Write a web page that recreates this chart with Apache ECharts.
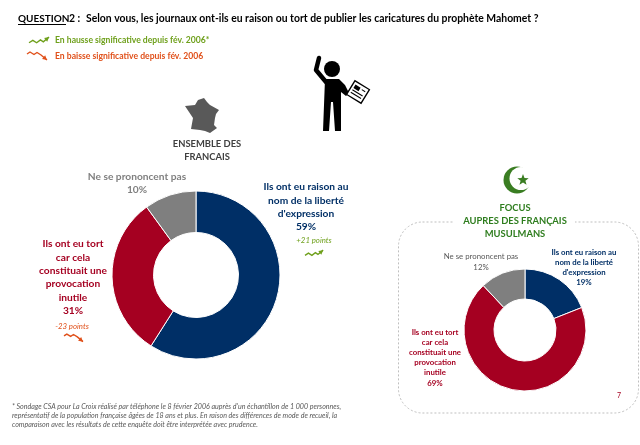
<!DOCTYPE html>
<html>
<head>
<meta charset="utf-8">
<style>
html, body { margin: 0; padding: 0; background: #fff; }
#chart { width: 640px; height: 445px; }
</style>
<script src="https://cdn.jsdelivr.net/npm/echarts@6/dist/echarts.min.js"></script>
</head>
<body>
<div id="chart"></div>
<script>
var categories = ["Ils ont eu raison au nom de la liberté d'expression", 'Ils ont eu tort car cela constituait une provocation inutile', 'Ne se prononcent pas'];
var ensembleValues = [59, 31, 10];
var musulmansValues = [19, 69, 12];
var sliceColors = ['#002f66', '#a50021', '#7f7f7f'];

var FONT = 'Lato, "Open Sans", sans-serif';

var chart = echarts.init(document.getElementById('chart'));

function pieData(values) {
    return values.map(function (v, i) {
        return {name: categories[i], value: v, itemStyle: {color: sliceColors[i]}};
    });
}

function pieSeries(center, radius, values) {
    return {
        type: 'pie',
        center: center,
        radius: radius,
        startAngle: 90,
        clockwise: true,
        silent: true,
        animation: false,
        label: {show: false},
        labelLine: {show: false},
        itemStyle: {borderColor: '#fff', borderWidth: 1},
        data: pieData(values)
    };
}

function text(str, x, y, size, color, opt) {
    opt = opt || {};
    return {
        type: 'text',
        x: x,
        y: y,
        z: 10,
        style: {
            text: str,
            font: (opt.italic ? 'italic ' : '') + (opt.normal ? '' : 'bold ') + size + 'px ' + FONT,
            fill: color,
            align: opt.align || 'center',
            verticalAlign: 'middle'
        }
    };
}

// un bloc de lignes centrees
function lines(arr, x, y, step, size, color, opt) {
    return arr.map(function (s, i) {
        return text(s, x, y + i * step, size, color, opt);
    });
}

function zigzag(points, color) {
    var last = points[points.length - 1], prev = points[points.length - 2];
    var a = Math.atan2(last[1] - prev[1], last[0] - prev[0]);
    var head = [
        last,
        [last[0] - 5 * Math.cos(a - 0.5), last[1] - 5 * Math.sin(a - 0.5)],
        [last[0] - 5 * Math.cos(a + 0.5), last[1] - 5 * Math.sin(a + 0.5)]
    ];
    return [
        {type: 'polyline', shape: {points: points}, style: {stroke: color, lineWidth: 1.4, fill: null}},
        {type: 'polygon', shape: {points: head}, style: {fill: color}}
    ];
}

function upArrow(x, y, w) {
    var k = w / 22;
    return zigzag([[x, y + 5 * k], [x + 4 * k, y + 2.5 * k], [x + 8 * k, y + 5 * k], [x + 12 * k, y + 2 * k], [x + 15 * k, y + 4 * k], [x + 21 * k, y - 1 * k]], '#6fa01c');
}

function downArrow(x, y, w) {
    var k = w / 20;
    return zigzag([[x, y + 1 * k], [x + 3 * k, y - 1 * k], [x + 7 * k, y + 1.5 * k], [x + 10 * k, y - 0.5 * k], [x + 14 * k, y + 2 * k], [x + 20 * k, y + 7 * k]], '#e0501a');
}

function starPoints(cx, cy, r) {
    var pts = [];
    for (var i = 0; i < 10; i++) {
        var rr = i % 2 ? r * 0.42 : r;
        var a = -Math.PI / 2 + i * Math.PI / 5;
        pts.push([cx + rr * Math.cos(a), cy + rr * Math.sin(a)]);
    }
    return pts;
}

var franceOutline = [[204, 98], [207, 102], [210, 105], [219, 110], [216, 114], [215, 118], [214, 125], [217, 128], [210, 133], [205, 131], [200, 130], [191, 129], [193, 118], [189, 112], [185, 106], [195, 105], [198, 100]];

var graphics = [];

// cadre pointille du focus, interrompu par le titre
graphics.push({type: 'rect', shape: {x: 398.5, y: 222, width: 240, height: 191, r: 24}, style: {fill: null, stroke: '#bfbfbf', lineWidth: 1, lineDash: [2, 2]}});
graphics.push({type: 'rect', shape: {x: 453, y: 216, width: 122, height: 12}, style: {fill: '#fff'}});

// titre
graphics.push(text('QUESTION', 18, 19, 10, '#000', {align: 'left'}));
graphics.push({type: 'line', shape: {x1: 18, y1: 24.5, x2: 66, y2: 24.5}, style: {stroke: '#000', lineWidth: 1}});
graphics.push(text('2 :', 69, 19, 10.4, '#000', {align: 'left'}));
graphics.push(text('Selon vous, les journaux ont-ils eu raison ou tort de publier les caricatures du prophète Mahomet ?', 86, 19, 10.4, '#000', {align: 'left'}));

// legende
graphics = graphics.concat(upArrow(29, 38, 21));
graphics.push(text('En hausse significative depuis fév. 2006*', 55, 40, 8.6, '#6fa01c', {align: 'left'}));
graphics = graphics.concat(downArrow(27, 53, 20));
graphics.push(text('En baisse significative depuis fév. 2006', 55, 56, 8.6, '#e0501a', {align: 'left'}));

// personnage au journal
graphics.push({type: 'circle', shape: {cx: 332, cy: 69, r: 8}, style: {fill: '#000'}});
graphics.push({type: 'polyline', shape: {points: [[319, 58], [316, 70], [326, 82]]}, style: {stroke: '#000', lineWidth: 4.5, fill: null, lineCap: 'round', lineJoin: 'round'}});
graphics.push({type: 'polygon', shape: {points: [[325, 79], [339, 79], [345, 85], [349, 93], [346, 96], [341, 92], [341, 131], [335, 131], [333, 102], [331, 102], [329, 131], [323, 131]]}, style: {fill: '#000'}});
graphics.push({
    type: 'rect', x: 358, y: 92, rotation: -0.55,
    shape: {x: -8.5, y: -8, width: 17, height: 16},
    style: {fill: '#fff', stroke: '#000', lineWidth: 1.3}
});
graphics.push({type: 'rect', x: 358, y: 92, rotation: -0.55, shape: {x: -6, y: -5, width: 6, height: 4}, style: {fill: '#000'}});
graphics.push({type: 'line', x: 358, y: 92, rotation: -0.55, shape: {x1: -6, y1: 1, x2: 6, y2: 1}, style: {stroke: '#000', lineWidth: 1}});
graphics.push({type: 'line', x: 358, y: 92, rotation: -0.55, shape: {x1: -6, y1: 4, x2: 6, y2: 4}, style: {stroke: '#000', lineWidth: 1}});
graphics.push({type: 'line', x: 358, y: 92, rotation: -0.55, shape: {x1: 2, y1: -4, x2: 6, y2: -4}, style: {stroke: '#000', lineWidth: 1}});

// carte de France
graphics.push({type: 'polygon', shape: {points: franceOutline}, style: {fill: '#595959'}});

// ensemble des francais
graphics = graphics.concat(lines(['ENSEMBLE DES', 'FRANCAIS'], 207, 144, 13, 9.4, '#404040'));
graphics = graphics.concat(lines(['Ne se prononcent pas', ensembleValues[2] + '%'], 137, 177, 13, 10.2, '#7f7f7f'));
graphics = graphics.concat(lines(['Ils ont eu raison au', 'nom de la liberté', "d'expression", ensembleValues[0] + '%'], 306, 187, 13.3, 10.2, sliceColors[0]));
graphics = graphics.concat(lines(['Ils ont eu tort', 'car cela', 'constituait une', 'provocation', 'inutile', ensembleValues[1] + '%'], 73, 244, 13.4, 10.2, sliceColors[1]));
graphics.push(text('+21 points', 314, 240, 7.8, '#6fa01c', {italic: true, normal: true}));
graphics = graphics.concat(upArrow(305, 251, 19));
graphics.push(text('-23 points', 72, 326, 7.8, '#e0501a', {italic: true, normal: true}));
graphics = graphics.concat(downArrow(64, 335, 19));

// croissant et etoile
graphics.push({type: 'circle', shape: {cx: 517, cy: 180, r: 13.5}, style: {fill: '#3a7d22'}});
graphics.push({type: 'circle', shape: {cx: 521, cy: 178.5, r: 11.5}, style: {fill: '#fff'}});
graphics.push({type: 'polygon', shape: {points: starPoints(523, 180, 6)}, style: {fill: '#3a7d22'}});

// focus musulmans
graphics = graphics.concat(lines(['FOCUS', 'AUPRES DES FRANÇAIS', 'MUSULMANS'], 515, 208, 13, 9.4, '#2e7d1e'));
graphics = graphics.concat(lines(['Ne se prononcent pas', musulmansValues[2] + '%'], 481, 256, 11, 7.8, '#595959', {normal: true}));
graphics = graphics.concat(lines(['Ils ont eu raison au', 'nom de la liberté', "d'expression", musulmansValues[0] + '%'], 584, 252, 10.2, 7.8, sliceColors[0]));
graphics = graphics.concat(lines(['Ils ont eu tort', 'car cela', 'constituait une', 'provocation', 'inutile', musulmansValues[1] + '%'], 435, 332, 10.2, 7.8, sliceColors[1]));

// note de bas de page
graphics = graphics.concat(lines([
    '* Sondage CSA pour La Croix réalisé par téléphone le 8 février 2006 auprès d\'un échantillon de 1 000 personnes,',
    'représentatif de la population française âgées de 18 ans et plus. En raison des différences de mode de recueil, la',
    'comparaison avec les résultats de cette enquête doit être interprétée avec prudence.'
], 12, 407, 9, 7.1, '#595959', {italic: true, normal: true, align: 'left'}));
graphics.push(text('7', 619, 396, 7, '#a50021', {normal: true}));

chart.setOption({
    backgroundColor: '#fff',
    animation: false,
    series: [
        pieSeries([196, 275], [42.5, 84], ensembleValues),
        pieSeries([525, 330], [31, 61], musulmansValues)
    ],
    graphic: {elements: graphics}
});
</script>
</body>
</html>
